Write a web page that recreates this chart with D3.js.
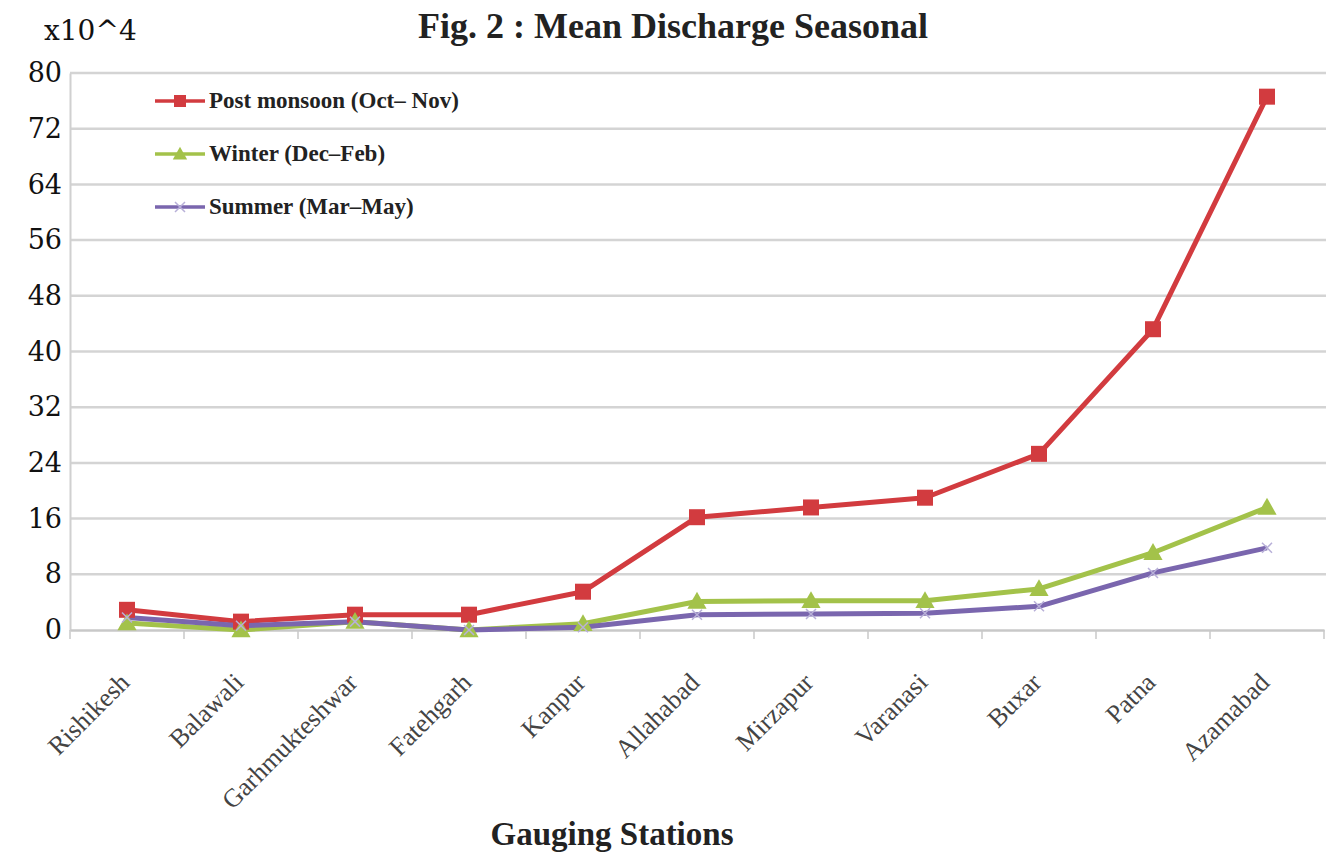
<!DOCTYPE html>
<html>
  <head>
    <meta charset="UTF-8" />
    <script src="https://d3js.org/d3.v7.min.js"></script>
    <style>
      body { margin: 0; background: #fff; }
    </style>
  </head>
  <body>
    <svg width="1332" height="855"></svg>

    <script>
      const stations = ["Rishikesh", "Balawali", "Garhmukteshwar", "Fatehgarh", "Kanpur",
        "Allahabad", "Mirzapur", "Varanasi", "Buxar", "Patna", "Azamabad"];
      const postMonsoon = [2.9, 1.2, 2.2, 2.2, 5.5, 16.2, 17.6, 19.0, 25.3, 43.2, 76.6];
      const winter = [1.0, 0.0, 1.2, 0.0, 0.9, 4.1, 4.2, 4.2, 5.9, 11.1, 17.6];
      const summer = [1.8, 0.6, 1.2, 0.0, 0.4, 2.2, 2.3, 2.4, 3.4, 8.2, 11.8];
      const yTicks = [0, 8, 16, 24, 32, 40, 48, 56, 64, 72, 80];

      const series = [
        { name: "Post monsoon (Oct\u2013 Nov)", values: postMonsoon, color: "#d23b3f", marker: "square" },
        { name: "Winter (Dec\u2013Feb)", values: winter, color: "#a3c24a", marker: "triangle" },
        { name: "Summer (Mar\u2013May)", values: summer, color: "#7a66ae", marker: "cross" }
      ];

      var svg = d3.select("svg");

      const x = d3.scaleBand().domain(stations).range([70, 1324]);
      const y = d3.scaleLinear().domain([0, 80]).range([630, 73]);

      // grid lines
      svg.append("g")
        .selectAll("line")
        .data(yTicks.filter(d => d > 0))
        .enter()
        .append("line")
        .attr("x1", 70)
        .attr("x2", 1326)
        .attr("y1", d => y(d))
        .attr("y2", d => y(d))
        .attr("stroke", "#d4d4d4")
        .attr("stroke-width", 2.5);

      // y axis
      const yAxis = d3.axisLeft(y).tickValues(yTicks).tickSize(0).tickPadding(8);
      const yg = svg.append("g").attr("transform", "translate(70,0)").call(yAxis);
      yg.select(".domain").attr("stroke", "#d0d0d0").attr("stroke-width", 2);
      yg.selectAll("text")
        .attr("font-family", "DejaVu Serif, serif")
        .attr("font-size", 27)
        .attr("fill", "#111");

      // x axis
      const xAxis = d3.axisBottom(x).tickSize(0).tickFormat("");
      const xg = svg.append("g").attr("transform", "translate(0,630)").call(xAxis);
      xg.select(".domain").attr("stroke", "#c8c8c8").attr("stroke-width", 2.5);
      xg.selectAll(".tick").remove();
      const edges = stations.map(s => x(s)).concat([x.range()[1]]);
      xg.selectAll("line.edge")
        .data(edges)
        .enter()
        .append("line")
        .attr("class", "edge")
        .attr("x1", d => d)
        .attr("x2", d => d)
        .attr("y1", 0)
        .attr("y2", 9)
        .attr("stroke", "#c8c8c8")
        .attr("stroke-width", 1.5);

      // x labels
      svg.append("g")
        .selectAll("text")
        .data(stations)
        .enter()
        .append("text")
        .attr("transform", d => "translate(" + (x(d) + x.bandwidth() / 2 + 4) + ",684) rotate(-45)")
        .attr("text-anchor", "end")
        .attr("font-family", "Liberation Serif, serif")
        .attr("font-size", 26)
        .attr("fill", "#444")
        .text(d => d);

      // lines
      const line = d3.line()
        .x((d, i) => x(stations[i]) + x.bandwidth() / 2)
        .y(d => y(d));

      series.forEach(s => {
        svg.append("path")
          .datum(s.values)
          .attr("fill", "none")
          .attr("stroke", s.color)
          .attr("stroke-width", 5)
          .attr("stroke-linejoin", "round")
          .attr("d", line);
      });

      function drawMarker(g, type, color, size) {
        if (type === "square") {
          g.append("rect").attr("x", -size / 2).attr("y", -size / 2)
            .attr("width", size).attr("height", size).attr("fill", color);
        } else if (type === "triangle") {
          const h = size;
          g.append("path")
            .attr("d", "M0," + (-h * 0.6) + "L" + (h * 0.6) + "," + (h * 0.45) + "L" + (-h * 0.6) + "," + (h * 0.45) + "Z")
            .attr("fill", color);
        } else {
          g.append("path")
            .attr("d", "M-5,-5L5,5M-5,5L5,-5")
            .attr("stroke", "#b8b0d8").attr("stroke-width", 1.5);
        }
      }

      series.forEach(s => {
        s.values.forEach((v, i) => {
          const g = svg.append("g")
            .attr("transform", "translate(" + (x(stations[i]) + x.bandwidth() / 2) + "," + y(v) + ")");
          drawMarker(g, s.marker, s.color, 16);
        });
      });

      // legend
      const legend = svg.append("g");
      series.forEach((s, i) => {
        const ly = 101 + i * 53;
        legend.append("line")
          .attr("x1", 155).attr("x2", 205)
          .attr("y1", ly).attr("y2", ly)
          .attr("stroke", s.color).attr("stroke-width", 3.5);
        const g = legend.append("g").attr("transform", "translate(180," + ly + ")");
        drawMarker(g, s.marker, s.color, 12);
        legend.append("text")
          .attr("x", 209)
          .attr("y", ly + 7)
          .attr("font-family", "Liberation Serif, serif")
          .attr("font-size", 23)
          .attr("font-weight", "bold")
          .attr("fill", "#222")
          .text(s.name);
      });

      // titles
      svg.append("text")
        .attr("x", 673).attr("y", 38)
        .attr("text-anchor", "middle")
        .attr("font-family", "Liberation Serif, serif")
        .attr("font-weight", "bold")
        .attr("font-size", 36)
        .attr("fill", "#222")
        .text("Fig. 2 : Mean Discharge Seasonal");

      svg.append("text")
        .attr("x", 44).attr("y", 40)
        .attr("font-family", "DejaVu Serif, serif")
        .attr("font-size", 28)
        .attr("fill", "#111")
        .text("x10^4");

      svg.append("text")
        .attr("x", 612).attr("y", 845)
        .attr("text-anchor", "middle")
        .attr("font-family", "Liberation Serif, serif")
        .attr("font-weight", "bold")
        .attr("font-size", 33)
        .attr("fill", "#222")
        .text("Gauging Stations");
    </script>
  </body>
</html>
